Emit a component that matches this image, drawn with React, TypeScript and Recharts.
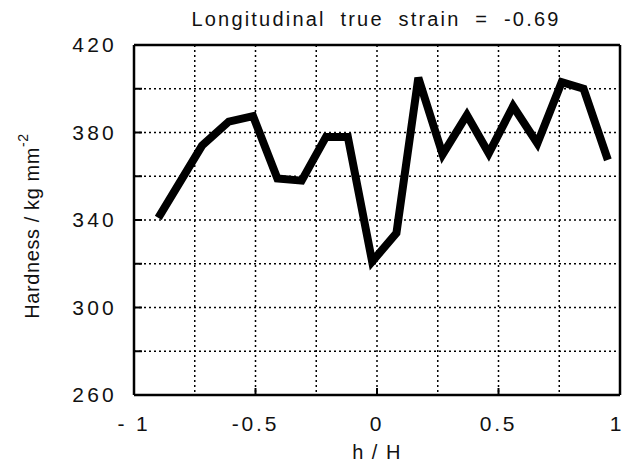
import { LineChart, Line, XAxis, YAxis, CartesianGrid } from 'recharts';

const hPos = [-0.9, -0.72, -0.61, -0.51, -0.41, -0.31, -0.21, -0.12, -0.02, 0.08, 0.17, 0.27, 0.37, 0.46, 0.56, 0.66, 0.76, 0.85, 0.95];
const hardness = [341, 374, 385, 387.5, 359, 358, 378, 378, 321, 334, 405, 370, 388, 370.5, 392, 375, 403, 400, 367.5];

const xTicks = [-1, -0.5, 0, 0.5, 1];
const xGrid = [-0.75, -0.5, -0.25, 0, 0.25, 0.5, 0.75];
const yTicks = [260, 280, 300, 320, 340, 360, 380, 400, 420];
const yGrid = [280, 300, 320, 340, 360, 380, 400];

const title = 'Longitudinal true strain = -0.69';
const xTitle = 'h / H';

const data = hPos.map((h, i) => ({ h, hv: hardness[i] }));

const FONT = '"Liberation Sans", Arial, sans-serif';

const BottomTick = ({ x, y, payload }: any) => {
  const v = payload.value;
  const inner = v !== -1 && v !== 1;
  const label = v === -1 ? '- 1' : String(v);
  // last label sits on the page edge, keep it inside
  const lx = v === 1 ? x - 3 : x;
  return (
    <g>
      {inner && <line x1={x} y1={y} x2={x} y2={y - 7} stroke="#000" strokeWidth={2} />}
      <text x={lx} y={y + 36} textAnchor="middle" fontSize={21} letterSpacing={2.8} fontFamily={FONT} fill="#111">
        {label}
      </text>
    </g>
  );
};

const LeftTick = ({ x, y, payload }: any) => {
  const v = payload.value;
  const labelled = (v - 260) % 40 === 0;
  return (
    <g>
      {v !== 260 && v !== 420 && <line x1={x} y1={y} x2={x + 8} y2={y} stroke="#000" strokeWidth={2} />}
      {labelled && (
        <text x={x - 17} y={y + 7} textAnchor="end" fontSize={21} letterSpacing={3.2} fontFamily={FONT} fill="#111">
          {v}
        </text>
      )}
    </g>
  );
};

const RightTick = ({ x, y, payload }: any) => {
  const v = payload.value;
  if (v === 260 || v === 420) return <g />;
  return <line x1={x} y1={y} x2={x - 8} y2={y} stroke="#000" strokeWidth={2} />;
};

const YTitle = ({ viewBox }: any) => {
  const cx = viewBox.x + 32;
  const cy = viewBox.y + viewBox.height / 2 + 6;
  return (
    <text
      x={cx}
      y={cy}
      transform={`rotate(-90, ${cx}, ${cy})`}
      textAnchor="middle"
      dominantBaseline="central"
      fontSize={20}
      letterSpacing={0.6}
      fontFamily={FONT}
      fill="#111"
    >
      Hardness / kg mm<tspan dy={-9} fontSize={14}>-2</tspan>
    </text>
  );
};

export default function App() {
  return (
    <div style={{ position: 'absolute', left: 0, top: 0, width: 625, height: 464, background: '#fff' }}>
      <div
        style={{
          position: 'absolute',
          left: 0,
          top: 8,
          width: 752,
          textAlign: 'center',
          fontFamily: FONT,
          fontSize: 20,
          letterSpacing: 2.2,
          wordSpacing: 7,
          color: '#111',
        }}
      >
        {title}
      </div>
      <LineChart width={625} height={464} data={data} margin={{ top: 0, right: 0, bottom: 0, left: 0 }}>
        <CartesianGrid
          xAxisId="b"
          yAxisId="l"
          verticalValues={xGrid}
          horizontalValues={yGrid}
          stroke="#000"
          strokeWidth={1.5}
          strokeDasharray="2 3"
        />
        <XAxis
          xAxisId="b"
          dataKey="h"
          type="number"
          domain={[-1, 1]}
          ticks={xTicks}
          height={69}
          tickSize={0}
          tickMargin={0}
          tickLine={false}
          axisLine={{ stroke: '#000', strokeWidth: 2.5 }}
          tick={(p: any) => <BottomTick {...p} />}
          interval={0}
          label={{ value: xTitle, position: 'insideBottom', offset: 5, fontSize: 20, fontFamily: FONT, fill: '#111', letterSpacing: 1.5 }}
        />
        <XAxis
          xAxisId="t"
          orientation="top"
          dataKey="h"
          type="number"
          domain={[-1, 1]}
          height={45}
          tick={false}
          tickLine={false}
          axisLine={{ stroke: '#000', strokeWidth: 2.5 }}
        />
        <YAxis
          yAxisId="l"
          type="number"
          domain={[260, 420]}
          ticks={yTicks}
          width={134}
          tickSize={0}
          tickMargin={0}
          tickLine={false}
          interval={0}
          axisLine={{ stroke: '#000', strokeWidth: 2.5 }}
          tick={(p: any) => <LeftTick {...p} />}
          label={{ content: (p: any) => <YTitle {...p} /> }}
        />
        <YAxis
          yAxisId="r"
          orientation="right"
          type="number"
          domain={[260, 420]}
          ticks={yTicks}
          width={5}
          tickSize={0}
          tickMargin={0}
          tickLine={false}
          interval={0}
          axisLine={{ stroke: '#000', strokeWidth: 2.5 }}
          tick={(p: any) => <RightTick {...p} />}
        />
        <Line
          xAxisId="b"
          yAxisId="l"
          type="linear"
          dataKey="hv"
          stroke="#000"
          strokeWidth={8}
          dot={false}
          isAnimationActive={false}
        />
      </LineChart>
    </div>
  );
}
